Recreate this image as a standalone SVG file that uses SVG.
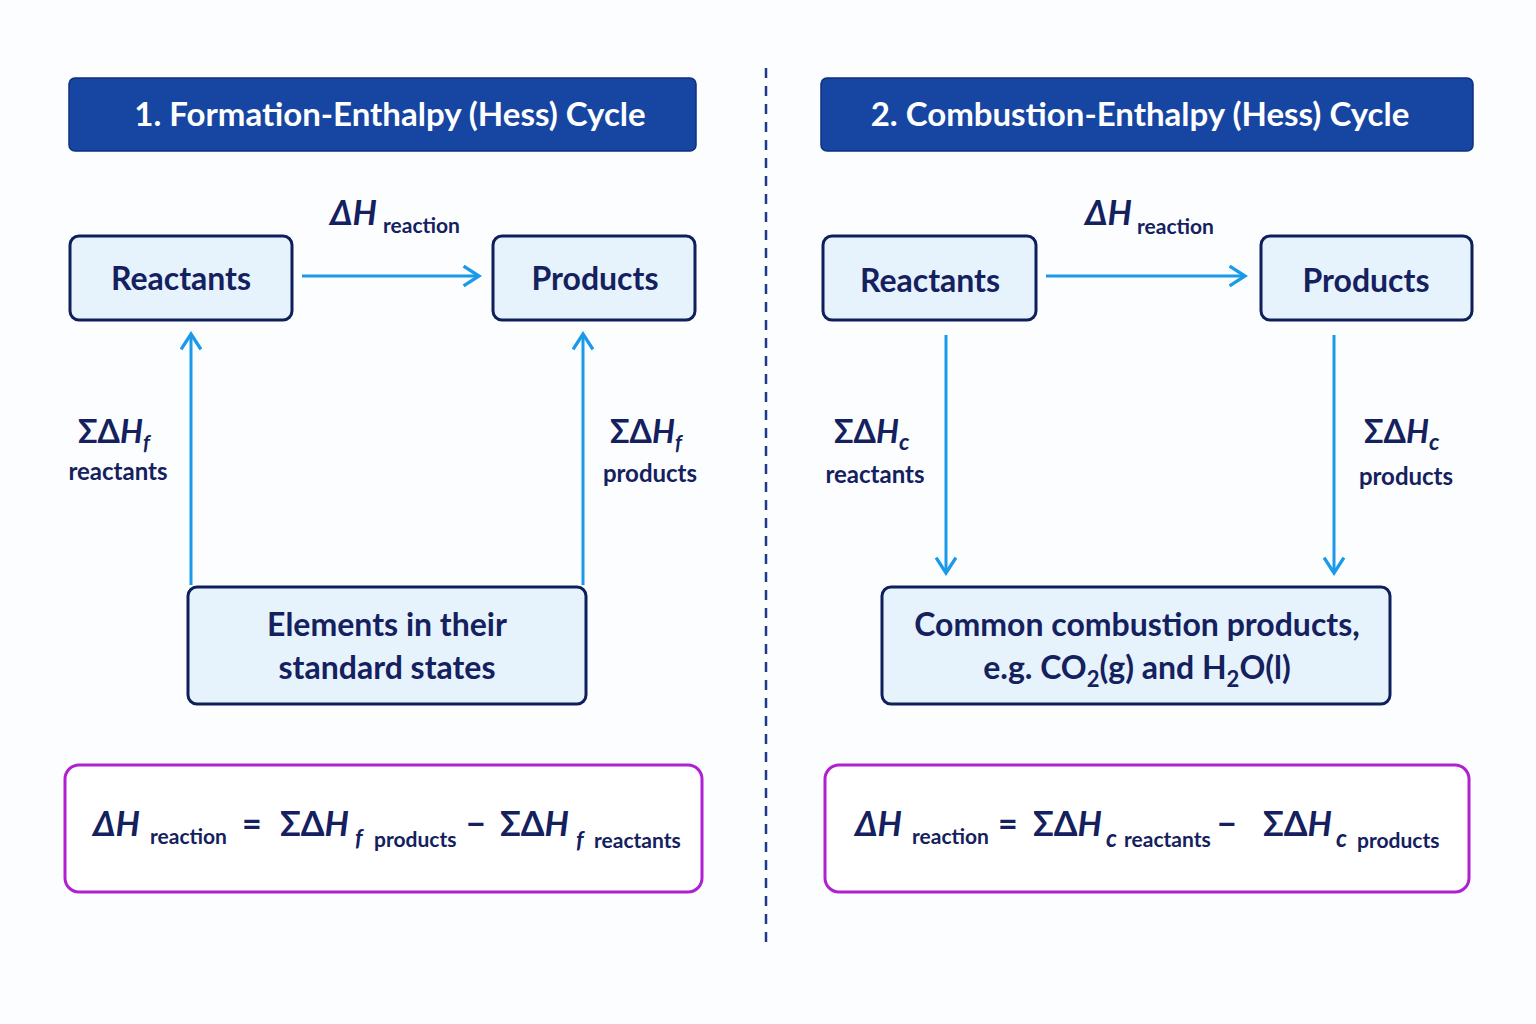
<svg xmlns="http://www.w3.org/2000/svg" width="1536" height="1024" viewBox="0 0 1536 1024">
<defs>
<style>
.t{font-family:Lato,"Liberation Sans",sans-serif;fill:#14215e;font-weight:700}
.title{font-family:Lato,"Liberation Sans",sans-serif;fill:#fff;font-weight:700;font-size:33px}
.box{fill:#e6f2fc;stroke:#0f1f5c;stroke-width:3}
.bar{fill:#1746a2;stroke:#0f2f80;stroke-width:1.5}
.fbox{fill:#fff;stroke:#b020d0;stroke-width:3}
.arr{stroke:#1a9ae8;stroke-width:3;fill:none;marker-end:url(#ah)}
.big{font-size:32px}
.lbl{font-size:24px}
.sm{font-size:21px}
.it{font-style:italic}
</style>
<marker id="ah" viewBox="0 0 20 20" refX="17" refY="10" markerWidth="22" markerHeight="22" markerUnits="userSpaceOnUse" orient="auto">
<path d="M3,1 L17,10 L3,19" fill="none" stroke="#1a9ae8" stroke-width="3"/>
</marker>
</defs>
<rect width="1536" height="1024" fill="#fbfdfe"/>
<g id="connectors">
<line x1="766" y1="68" x2="766" y2="945" stroke="#1e3a8a" stroke-width="2.5" stroke-dasharray="10,8"/>
<line class="arr" x1="302" y1="276" x2="479" y2="276"/>
<line class="arr" x1="191" y1="585" x2="191" y2="334"/>
<line class="arr" x1="583" y1="585" x2="583" y2="334"/>
<line class="arr" x1="1046" y1="276" x2="1245" y2="276"/>
<line class="arr" x1="946" y1="335" x2="946" y2="573"/>
<line class="arr" x1="1334" y1="335" x2="1334" y2="573"/>
</g>
<g id="title1"><rect class="bar" x="69" y="78" width="627" height="73" rx="6"/><text class="title" x="390" y="126" text-anchor="middle">1. Formation-Enthalpy (Hess) Cycle</text></g>
<g id="title2"><rect class="bar" x="821" y="78" width="652" height="73" rx="6"/><text class="title" x="1140" y="126" text-anchor="middle">2. Combustion-Enthalpy (Hess) Cycle</text></g>
<g id="l-react"><rect class="box" x="70" y="236" width="222" height="84" rx="9"/><text class="t big" x="181" y="290" text-anchor="middle">Reactants</text></g>
<g id="l-prod"><rect class="box" x="493" y="236" width="202" height="84" rx="9"/><text class="t big" x="595" y="290" text-anchor="middle">Products</text></g>
<g id="l-elem"><rect class="box" x="188" y="587" width="398" height="117" rx="9"/><text class="t big" x="387" y="636" text-anchor="middle">Elements in their</text><text class="t big" x="387" y="679" text-anchor="middle">standard states</text></g>
<g id="r-react"><rect class="box" x="823" y="236" width="213" height="84" rx="9"/><text class="t big" x="930" y="292" text-anchor="middle">Reactants</text></g>
<g id="r-prod"><rect class="box" x="1261" y="236" width="211" height="84" rx="9"/><text class="t big" x="1366" y="292" text-anchor="middle">Products</text></g>
<g id="r-comb"><rect class="box" x="882" y="587" width="508" height="117" rx="9"/><text class="t big" x="1137" y="636" text-anchor="middle">Common combustion products,</text><text class="t big" x="1137" y="679" text-anchor="middle">e.g. CO<tspan font-size="22" dy="8">2</tspan><tspan dy="-8">(g) and H</tspan><tspan font-size="22" dy="8">2</tspan><tspan dy="-8">O(l)</tspan></text></g>
<g id="labels">
<text class="t" x="330" y="225"><tspan class="it" font-size="34">ΔH</tspan><tspan class="sm" x="383" y="233">reaction</tspan></text>
<text class="t" x="1085" y="225"><tspan class="it" font-size="34">ΔH</tspan><tspan class="sm" x="1137" y="234">reaction</tspan></text>
<text class="t" x="78" y="443" font-size="32">ΣΔ<tspan class="it">H</tspan><tspan class="it" font-size="21" dy="7">f</tspan></text>
<text class="t lbl" x="118" y="480" text-anchor="middle">reactants</text>
<text class="t" x="610" y="443" font-size="32">ΣΔ<tspan class="it">H</tspan><tspan class="it" font-size="21" dy="7">f</tspan></text>
<text class="t lbl" x="650" y="482" text-anchor="middle">products</text>
<text class="t" x="834" y="443" font-size="32">ΣΔ<tspan class="it">H</tspan><tspan class="it" font-size="23" dy="7">c</tspan></text>
<text class="t lbl" x="875" y="483" text-anchor="middle">reactants</text>
<text class="t" x="1364" y="443" font-size="32">ΣΔ<tspan class="it">H</tspan><tspan class="it" font-size="23" dy="7">c</tspan></text>
<text class="t lbl" x="1406" y="485" text-anchor="middle">products</text>
</g>
<g id="formula1"><rect class="fbox" x="65" y="765" width="637" height="127" rx="14"/>
<text class="t" font-size="34"><tspan class="it" x="93" y="836">ΔH</tspan><tspan class="sm" x="150" y="844">reaction</tspan><tspan x="242" y="836">=</tspan><tspan x="280" y="836">ΣΔ<tspan class="it">H</tspan></tspan><tspan class="it" font-size="23" x="355" y="846">f</tspan><tspan class="sm" x="374" y="847">products</tspan><tspan x="466" y="836">−</tspan><tspan x="500" y="836">ΣΔ<tspan class="it">H</tspan></tspan><tspan class="it" font-size="23" x="576" y="848">f</tspan><tspan class="sm" x="594" y="848">reactants</tspan></text></g>
<g id="formula2"><rect class="fbox" x="825" y="765" width="644" height="127" rx="14"/>
<text class="t" font-size="34"><tspan class="it" x="855" y="836">ΔH</tspan><tspan class="sm" x="912" y="844">reaction</tspan><tspan x="998" y="836">=</tspan><tspan x="1033" y="836">ΣΔ<tspan class="it">H</tspan></tspan><tspan class="it" font-size="24" x="1106" y="847">c</tspan><tspan class="sm" x="1124" y="847">reactants</tspan><tspan x="1217" y="836">−</tspan><tspan x="1263" y="836">ΣΔ<tspan class="it">H</tspan></tspan><tspan class="it" font-size="24" x="1336" y="847">c</tspan><tspan class="sm" x="1357" y="848">products</tspan></text></g>
</svg>
